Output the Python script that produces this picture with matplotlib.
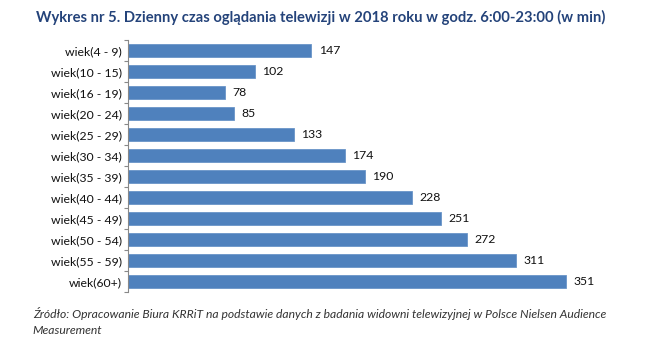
import numpy as np
import matplotlib.pyplot as plt
from matplotlib.ticker import FixedLocator

kategorie = ['wiek(4 - 9)', 'wiek(10 - 15)', 'wiek(16 - 19)', 'wiek(20 - 24)',
             'wiek(25 - 29)', 'wiek(30 - 34)', 'wiek(35 - 39)', 'wiek(40 - 44)',
             'wiek(45 - 49)', 'wiek(50 - 54)', 'wiek(55 - 59)', 'wiek(60+)']
minuty = [147, 102, 78, 85, 133, 174, 190, 228, 251, 272, 311, 351]

plt.rcParams['font.family'] = ['Lato', 'DejaVu Sans']

fig = plt.figure(figsize=(6.55, 3.57), dpi=100)
ax = fig.add_axes([0.195, 0.182, 0.762, 0.706])

y = np.arange(len(kategorie))
ax.barh(y, minuty, height=0.65, color='#4F81BD', edgecolor='#6A95C8', linewidth=0.6)
for yi, v in zip(y, minuty):
    ax.text(v + 6, yi, str(v), va='center', ha='left', fontsize=8.8, color='#111111')

ax.set_ylim(len(kategorie) - 0.5, -0.5)
ax.set_xlim(0, 400)
ax.set_yticks(y)
ax.set_yticklabels(kategorie, fontsize=8.8, color='#111111')
ax.tick_params(axis='y', which='major', length=0, pad=4)
ax.yaxis.set_minor_locator(FixedLocator(np.arange(-0.5, len(kategorie), 1)))
ax.tick_params(axis='y', which='minor', length=3, color='#888888', width=0.8)
ax.set_xticks([])
for s in ['top', 'right', 'bottom']:
    ax.spines[s].set_visible(False)
ax.spines['left'].set_color('#888888')
ax.spines['left'].set_linewidth(0.8)

fig.text(0.055, 0.952, 'Wykres nr 5. Dzienny czas oglądania telewizji w 2018 roku w godz. 6:00-23:00 (w min)',
         fontsize=10.6, fontweight='bold', color='#24437A', ha='left', va='center')
fig.text(0.05, 0.123, 'Źródło: Opracowanie Biura KRRiT na podstawie danych z badania widowni telewizyjnej w Polsce Nielsen Audience',
         fontsize=8.7, style='italic', color='#333333', ha='left', va='center')
fig.text(0.05, 0.075, 'Measurement', fontsize=8.7, style='italic', color='#333333', ha='left', va='center')

fig.savefig('out.png', dpi=100)
